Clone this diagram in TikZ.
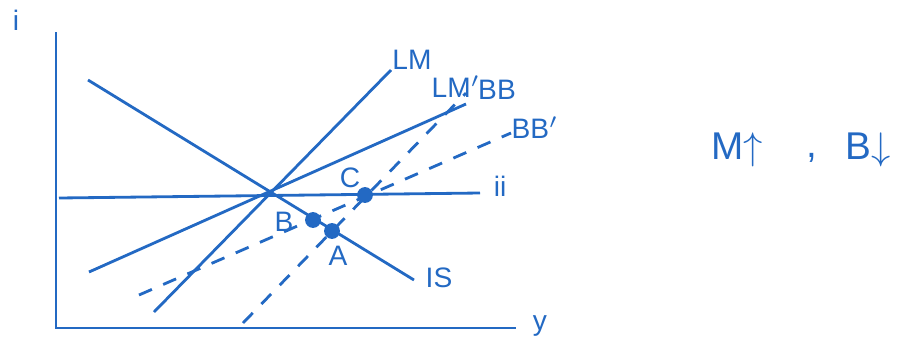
\documentclass[tikz,border=0pt]{standalone}
\usepackage{fontspec}
\setmainfont{Liberation Sans}
\usetikzlibrary{positioning}
\definecolor{pen}{RGB}{35,105,195}

\begin{document}
\begin{tikzpicture}[x=0.01cm, y=-0.01cm, font=\fontsize{8}{9}\selectfont, color=pen,
    curve/.style={line width=0.8pt},
    dashcurve/.style={line width=0.8pt, dash pattern=on 4pt off 3.5pt},
    eqpt/.style={circle, fill=pen, inner sep=0pt, minimum size=4.5pt},
    lbl/.style={inner sep=1pt, text=pen},
    big/.style={inner sep=1pt, text=pen, font=\fontsize{11}{12}\selectfont}]
    \useasboundingbox (0,0) rectangle (897,345);
    \coordinate (o) at (56,328);
    \coordinate (itop) at (56,32);
    \coordinate (yend) at (516,328);
    \draw[curve] (itop) -- (o) -- (yend);
    \node[lbl] (ilab) at (16,20) {i};
    \node[lbl] (ylab) at (540,326) {y};

    \coordinate (is1) at (88,80);
    \coordinate (is2) at (414,280);
    \coordinate (lm1) at (154,312);
    \coordinate (lm2) at (391,70);
    \coordinate (lmp1) at (89,272);
    \coordinate (lmp2) at (466,104);
    \coordinate (ii1) at (59,198);
    \coordinate (ii2) at (480,193);
    \coordinate (bb1) at (243,323);
    \coordinate (bb2) at (466,93);
    \coordinate (bbp1) at (139,295);
    \coordinate (bbp2) at (511,133);

    \draw[curve] (is1) -- (is2);
    \draw[curve] (lm1) -- (lm2);
    \draw[curve] (lmp1) -- (lmp2);
    \draw[curve] (ii1) -- (ii2);
    \draw[dashcurve] (bb1) -- (bb2);
    \draw[dashcurve] (bbp1) -- (bbp2);

    \node[eqpt] (c) at (365,195) {};
    \node[eqpt] (b) at (313,220) {};
    \node[eqpt] (a) at (332,231) {};
    \node[lbl] (clab) at (350,178) {C};
    \node[lbl] (blab) at (284,222) {B};
    \node[lbl] (alab) at (338,256) {A};

    \node[lbl] (islab) at (439,278) {IS};
    \node[lbl] (lmlab) at (412,60) {LM};
    \node[lbl] (lmplab) at (456,87) {LM$'$};
    \node[lbl] (bblab) at (497,90) {BB};
    \node[lbl] (bbplab) at (535,128) {BB$'$};
    \node[lbl] (iilab) at (500,186) {ii};

    \node[big] (mup) at (737,150) {M$\uparrow$};
    \node[big] (comma) at (812,158) {,};
    \node[big] (bdown) at (868,150) {B$\downarrow$};
\end{tikzpicture}
\end{document}
